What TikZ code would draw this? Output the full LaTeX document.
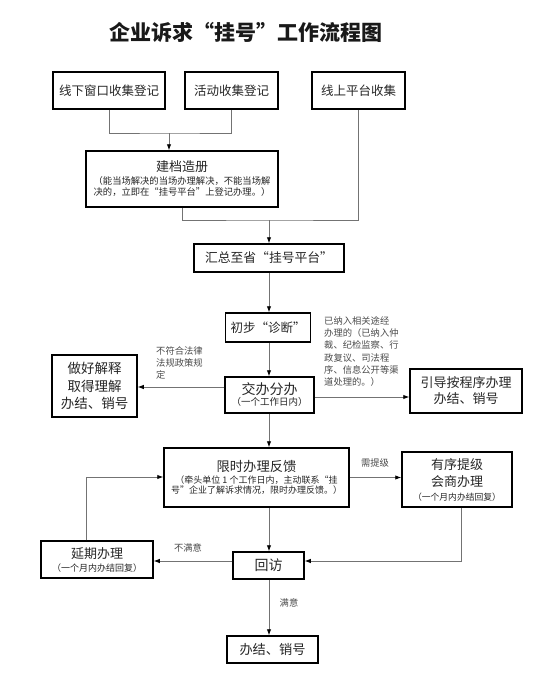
\documentclass[tikz,border=0pt]{standalone}
\usepackage{fontspec}
\setmainfont{Noto Sans CJK SC}
\usetikzlibrary{arrows.meta}
\newcommand\fs[2]{\fontsize{#1}{#2}\selectfont}
\begin{document}
\begin{tikzpicture}[x=1pt,y=-1pt,
 box/.style={draw=black,line width=1.5pt,align=center,inner sep=0pt,text=black!85},
 conn/.style={draw=black!55,line width=0.9pt},
 arr/.style={conn,-{Latex[length=6pt,width=4.5pt,color=black]}},
 lbl/.style={text=black!70,font=\fs{9.3}{12.3},inner sep=0pt}]
\useasboundingbox[fill=white] (0,0) rectangle (558,677);
\node[font=\fs{21}{24}\bfseries,text=black!90] (title) at (246,32) {企业诉求“挂号”工作流程图};

\node[box,minimum width=112pt,minimum height=37pt,font=\fs{12.5}{15}] (b1) at (109,90.5) {线下窗口收集登记};
\node[box,minimum width=93pt,minimum height=37pt,font=\fs{12.5}{15}] (b2) at (231.5,90.5) {活动收集登记};
\node[box,minimum width=93pt,minimum height=37pt,font=\fs{12.5}{15}] (b3) at (358.5,90.5) {线上平台收集};
\node[box,minimum width=192pt,minimum height=56pt,font=\fs{9.3}{11}] (jd) at (182,179)
 {{\fs{13}{16}建档造册}\\[2pt]（能当场解决的当场办理解决，不能当场解\\决的，立即在“挂号平台”上登记办理。）};
\node[box,minimum width=150pt,minimum height=28pt,font=\fs{12.8}{15}] (hz) at (269,258) {汇总至省“挂号平台”};
\node[box,minimum width=85pt,minimum height=29pt,font=\fs{12.5}{15}] (cb) at (268,327.5) {初步“诊断”};
\node[box,minimum width=89pt,minimum height=36pt,font=\fs{9.5}{11}] (jb) at (269.5,395)
 {{\fs{14}{16}交办分办}\\（一个工作日内）};
\node[box,minimum width=85pt,minimum height=62pt,font=\fs{13.5}{17.5}] (zh) at (94.5,386) {做好解释\\取得理解\\办结、销号};
\node[box,minimum width=112pt,minimum height=44pt,font=\fs{13}{16}] (yd) at (466,391) {引导按程序办理\\办结、销号};
\node[box,minimum width=185pt,minimum height=59pt,font=\fs{9}{10.5}] (xs) at (256.5,477.5)
 {{\fs{13.3}{16}限时办理反馈}\\[1pt]（牵头单位 1 个工作日内，主动联系“挂\\号”企业了解诉求情况，限时办理反馈。）};
\node[box,minimum width=110pt,minimum height=55pt,font=\fs{8.8}{12}] (yx) at (457,479.5)
 {{\fs{13}{18}有序提级}\\[4pt]{\fs{13}{18}会商办理}\\[2pt]（一个月内办结回复）};
\node[box,minimum width=71pt,minimum height=27pt,font=\fs{14}{16}] (hf) at (268.5,565.5) {回访};
\node[box,minimum width=112pt,minimum height=37pt,font=\fs{9}{11}] (yq) at (97,559.5)
 {{\fs{13}{16}延期办理}\\[2pt]（一个月内办结回复）};
\node[box,minimum width=91pt,minimum height=27pt,font=\fs{13.2}{15}] (bj) at (272.5,649.5) {办结、销号};

\coordinate (j1) at (169,133);
\draw[conn] (b1.south) |- (j1) -| (b2.south);
\draw[arr] (j1) -- (j1 |- jd.north);
\coordinate (j2) at (269,220);
\draw[conn] (b3.south) |- (j2) -- (jd.south |- j2) -- (jd.south);
\draw[arr] (j2) -- (hz.north);
\draw[arr] (hz.south) -- (hz.south |- cb.north);
\draw[arr] (hz.south |- cb.south) -- (hz.south |- jb.north);
\coordinate (a1) at ([yshift=8pt]jb.west);
\draw[arr] (a1) -- (a1 -| zh.east);
\coordinate (a2) at ([yshift=-2pt]jb.east);
\draw[arr] (a2) -- (a2 -| yd.west);
\draw[arr] (hz.south |- jb.south) -- (hz.south |- xs.north);
\draw[arr] (xs.east) -- (xs.east -| yx.west);
\draw[arr] (hz.south |- xs.south) -- (hz.south |- hf.north);
\coordinate (c3) at (461,561);
\draw[arr] (c3 |- yx.south) -- (c3) -- (c3 -| hf.east);
\draw[arr] (c3 -| hf.west) -- (c3 -| yq.east);
\coordinate (c4) at (86,477);
\draw[arr] (c4 |- yq.north) -- (c4) -- (c4 -| xs.west);
\draw[arr] (hz.south |- hf.south) -- (hz.south |- bj.north);

\node[lbl,anchor=north west,align=left] (l1) at (156,346) {不符合法律\\法规政策规\\定};
\node[lbl,anchor=north west,align=left] (l2) at (324,316)
 {已纳入相关途经\\办理的（已纳入仲\\裁、纪检监察、行\\政复议、司法程\\序、信息公开等渠\\道处理的。）};
\node[lbl] (l3) at (375,463) {需提级};
\node[lbl] (l4) at (188,548) {不满意};
\node[lbl] (l5) at (289,603) {满意};
\end{tikzpicture}
\end{document}
